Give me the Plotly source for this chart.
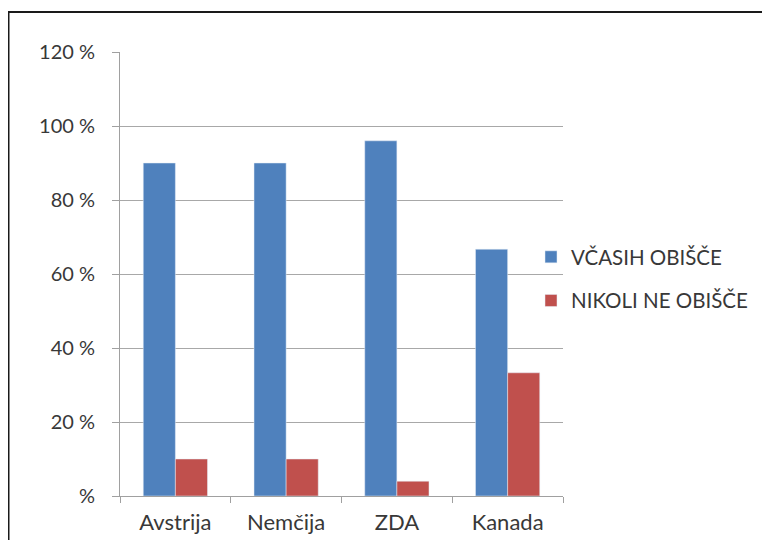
import plotly.graph_objects as go

categories = ["Avstrija", "Nemčija", "ZDA", "Kanada"]
vcasih = [90, 90, 96, 66.7]
nikoli = [10, 10, 4, 33.3]
series_names = ["VČASIH OBIŠČE", "NIKOLI NE OBIŠČE"]
tick_vals = [0, 20, 40, 60, 80, 100, 120]
tick_text = ["%", "20 %", "40 %", "60 %", "80 %", "100 %", "120 %"]

FONT = "Lato"
W, H = 770, 540
OFF = 8  # page body margin
L, T = 120 - OFF, 52 - OFF
R = W - (563 - OFF)
B = H - (496 - OFF)

fig = go.Figure()
fig.add_trace(go.Bar(x=categories, y=vcasih, name=series_names[0],
                     marker_color="#4F81BD", legendgroup="a"))
fig.add_trace(go.Bar(x=categories, y=nikoli, name=series_names[1],
                     marker_color="#C0504D", legendgroup="b"))

pw = W - L - R
ph = H - T - B
def px_x(p):
    return (p - OFF - L) / pw
def px_y(p):
    return (H - B - (p - OFF)) / ph

fig.update_layout(
    width=W, height=H,
    margin=dict(l=L, r=R, t=T, b=B),
    paper_bgcolor="white", plot_bgcolor="white",
    barmode="group", bargap=0.42, bargroupgap=0,
    font=dict(family=FONT, color="#383838"),
    showlegend=True,
    legend=dict(x=px_x(531), y=px_y(237), xanchor="left", yanchor="top",
                font=dict(size=20.5, color="#383838", family=FONT),
                tracegroupgap=14, traceorder="grouped",
                itemwidth=30, bgcolor="rgba(0,0,0,0)"),
    xaxis=dict(showline=True, linecolor="#a0a0a0", linewidth=1,
               ticks="outside", tickson="boundaries", ticklen=6,
               tickcolor="#a0a0a0", tickfont=dict(size=22, color="#383838"),
               showgrid=False, ticklabelstandoff=7),
    yaxis=dict(range=[0, 120], tickvals=tick_vals, ticktext=tick_text,
               showline=True, linecolor="#a0a0a0", linewidth=1,
               ticks="outside", ticklen=7, tickcolor="#a0a0a0",
               showgrid=True, gridcolor="#a8a8a8", gridwidth=1,
               zeroline=False,
               tickfont=dict(size=20, color="#383838"), ticklabelstandoff=13),
    shapes=[dict(type="rect", xref="paper", yref="paper",
                 x0=px_x(OFF + 0.5), x1=px_x(820), y0=px_y(600), y1=px_y(12),
                 line=dict(color="#1a1a1a", width=2), layer="below")],
)

fig.write_html("out.html")
